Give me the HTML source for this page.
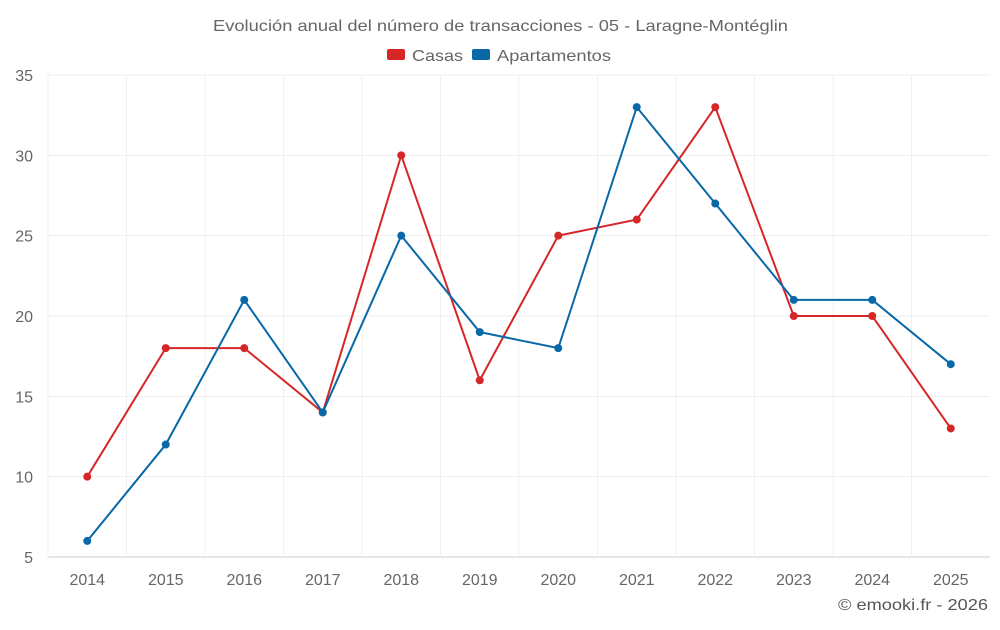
<!DOCTYPE html>
<html><head><meta charset="utf-8"><style>
body{margin:0;background:#fff;font-family:"Liberation Sans",sans-serif}
svg text{font-family:"Liberation Sans",sans-serif}
</style></head><body>
<svg id="chart" width="1000" height="625">
<text x="213" y="31" textLength="575" lengthAdjust="spacingAndGlyphs" font-size="16" fill="#666">Evolución anual del número de transacciones - 05 - Laragne-Montéglin</text>
<g>
<g><rect x="387" y="49" width="18" height="11" rx="2" fill="#d62728"/><text x="412" y="61" textLength="51" lengthAdjust="spacingAndGlyphs" font-size="16" fill="#666">Casas</text></g>
<g><rect x="472" y="49" width="18" height="11" rx="2" fill="#0868a8"/><text x="497" y="61" textLength="114" lengthAdjust="spacingAndGlyphs" font-size="16" fill="#666">Apartamentos</text></g>
</g>
<g id="grid"></g>
<g id="axes"></g>
<g id="series"></g>
<text x="838" y="610" textLength="150" lengthAdjust="spacingAndGlyphs" font-size="16" fill="#555">© emooki.fr - 2026</text>
</svg>
<script>
const years=["2014","2015","2016","2017","2018","2019","2020","2021","2022","2023","2024","2025"];
const casas=[10,18,18,14,30,16,25,26,33,20,20,13];
const apartamentos=[6,12,21,14,25,19,18,33,27,21,21,17];
const yTicks=[5,10,15,20,25,30,35];
const NS="http://www.w3.org/2000/svg";
const L=48,R=990,T=75,B=557,yMin=5,yMax=35;
const bw=(R-L)/years.length;
const x=i=>L+bw*(i+0.5);
const y=v=>B-(v-yMin)/(yMax-yMin)*(B-T);
function mk(t,a,p){const e=document.createElementNS(NS,t);for(const k in a)e.setAttribute(k,a[k]);p.appendChild(e);return e;}
const grid=document.getElementById('grid'),axes=document.getElementById('axes'),ser=document.getElementById('series');
yTicks.forEach(v=>{
 const l=mk('line',{x1:L,x2:R,y1:y(v),y2:y(v),stroke:v===yMin?'#ccc':'#eee'},grid);
 
 
 const t=mk('text',{x:33,y:y(v)+6,'text-anchor':'end','font-size':16,fill:'#666'},axes);
 t.textContent=v;
 
 
});
years.forEach((yr,i)=>{
 const l=mk('line',{x1:L+bw*i,x2:L+bw*i,y1:T,y2:B,stroke:'#f0f0f0'},grid);
 
 
 const t=mk('text',{x:x(i),y:585,'text-anchor':'middle','font-size':16,fill:'#666'},axes);
 t.textContent=yr;
 
 
});
function draw(vals,color,name){
 const p=mk('polyline',{points:vals.map((v,i)=>x(i)+','+y(v)).join(' '),fill:'none',stroke:color,'stroke-width':2},ser);
 
 
 vals.forEach((v,i)=>{
  const c=mk('circle',{cx:x(i),cy:y(v),r:4,fill:color},ser);
  
  
 });
}
draw(casas,'#d62728','casas');
draw(apartamentos,'#0868a8','apartamentos');
</script>
</body></html>
